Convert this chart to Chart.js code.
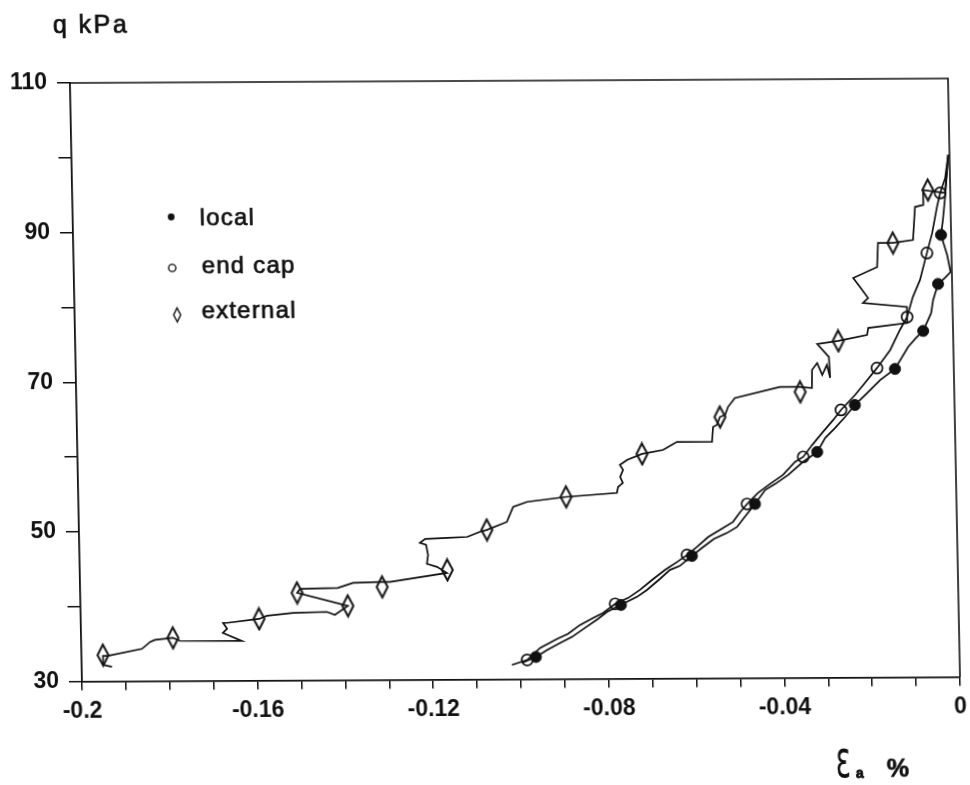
<!DOCTYPE html>
<html>
<head>
<meta charset="utf-8">
<script src="https://cdn.jsdelivr.net/npm/chart.js@4.4.1/dist/chart.umd.min.js"></script>
<style>
  html, body { margin: 0; padding: 0; background: #fff; overflow: hidden; }
  /* the scanned frame leans a little: slight shear of the whole plot */
  #plot { display: block; transform-origin: 0 0; transform: matrix(1, -0.005125, 0.02005, 1, -1.664, 0.359); }
</style>
</head>
<body>
<canvas id="plot" width="970" height="785"></canvas>
<script>
const INK = "#111";

// axial strain (%) and deviator stress q (kPa) for the three strain measurements
const localX = [-0.0997, -0.0965, -0.0939, -0.0909, -0.0882, -0.0852, -0.0822, -0.0801, -0.0769, -0.0732,
  -0.0709, -0.0679, -0.0656, -0.0633, -0.0605, -0.0582, -0.0554, -0.0524, -0.0501, -0.0485,
  -0.0459, -0.0435, -0.0412, -0.0382, -0.0348, -0.0315, -0.0296, -0.0273, -0.0250, -0.0227,
  -0.0196, -0.0168, -0.0134, -0.0103, -0.0085, -0.0068, -0.0049, -0.0044, -0.0032, -0.0016,
  -0.0003, -0.0010, -0.0023, -0.0018, -0.0012, -0.0006, -0.0003];
const localY = [32.16, 32.95, 33.88, 34.81, 35.60, 36.80, 37.99, 38.92, 39.85, 40.91,
  41.83, 43.30, 44.49, 45.02, 46.35, 47.41, 48.61, 49.40, 50.19, 51.39,
  53.26, 55.12, 55.92, 57.11, 58.84, 60.16, 62.03, 63.36, 64.82, 66.42,
  68.15, 69.75, 71.21, 74.14, 75.33, 76.27, 78.67, 80.40, 82.54, 83.34,
  84.13, 86.41, 89.09, 91.09, 94.16, 97.77, 99.78];

const capX = [-0.1020, -0.0985, -0.0955, -0.0916, -0.0891, -0.0863, -0.0833, -0.0810, -0.0782, -0.0752,
  -0.0725, -0.0697, -0.0667, -0.0639, -0.0616, -0.0593, -0.0567, -0.0540, -0.0510, -0.0493,
  -0.0477, -0.0452, -0.0424, -0.0394, -0.0366, -0.0347, -0.0326, -0.0301, -0.0277, -0.0259,
  -0.0226, -0.0203, -0.0175, -0.0144, -0.0121, -0.0104, -0.0090, -0.0073, -0.0056, -0.0043,
  -0.0031, -0.0023, -0.0011, -0.0003];
const capY = [31.90, 32.56, 34.16, 35.35, 36.01, 37.20, 38.13, 38.79, 39.99, 40.78,
  41.84, 43.17, 44.50, 45.56, 46.49, 47.55, 48.88, 49.81, 50.87, 52.20,
  53.26, 54.72, 55.92, 57.11, 58.84, 59.51, 61.10, 62.83, 64.43, 65.76,
  67.76, 69.36, 71.35, 73.75, 76.42, 78.15, 80.82, 83.08, 86.69, 89.36,
  92.83, 94.70, 96.70, 99.78];

const extX = [-0.1931, -0.1951, -0.1951, -0.1940, -0.1862, -0.1843, -0.1832, -0.1791, -0.1775, -0.1634,
  -0.1677, -0.1667, -0.1676, -0.1667, -0.1594, -0.1576, -0.1516, -0.1439, -0.1421, -0.1391,
  -0.1506, -0.1499, -0.1413, -0.1378, -0.1317, -0.1294, -0.1164, -0.1186, -0.1209, -0.1206,
  -0.1210, -0.1224, -0.1212, -0.1162, -0.1116, -0.1087, -0.1071, -0.1025, -0.1010, -0.0978,
  -0.0889, -0.0773, -0.0770, -0.0759, -0.0765, -0.0758, -0.0765, -0.0748, -0.0714, -0.0666,
  -0.0634, -0.0554, -0.0551, -0.0542, -0.0535, -0.0523, -0.0516, -0.0500, -0.0397, -0.0356,
  -0.0324, -0.0323, -0.0311, -0.0300, -0.0289, -0.0282, -0.0284, -0.0310, -0.0262, -0.0196,
  -0.0193, -0.0104, -0.0104, -0.0204, -0.0192, -0.0210, -0.0225, -0.0170, -0.0167, -0.0133,
  -0.0087, -0.0081, -0.0063, -0.0062, -0.0030, -0.0012, -0.0003];
const extY = [31.92, 32.19, 33.39, 33.39, 34.30, 35.23, 35.50, 35.75, 35.35, 35.30,
  36.38, 36.92, 37.72, 37.72, 38.23, 38.63, 39.01, 39.12, 38.72, 39.91,
  41.68, 42.21, 42.32, 42.98, 43.09, 43.09, 44.25, 45.06, 45.47, 46.67,
  48.01, 48.28, 48.81, 48.93, 49.05, 49.71, 49.97, 51.03, 53.03, 53.69,
  54.33, 54.83, 55.63, 56.16, 56.96, 57.90, 58.57, 59.23, 60.02, 60.54,
  61.60, 61.58, 63.58, 63.85, 64.91, 65.18, 66.25, 67.44, 68.88, 68.87,
  68.73, 71.13, 72.06, 70.46, 71.79, 70.05, 72.86, 74.60, 74.99, 75.77,
  76.71, 77.35, 79.49, 80.05, 80.72, 82.19, 83.40, 84.85, 88.06, 88.05,
  88.44, 92.85, 93.11, 95.11, 94.84, 94.70, 99.78];

// symbols placed along each trace
const localMarkX = [-0.0965, -0.0769, -0.0605, -0.0459, -0.0315, -0.0227, -0.0134, -0.0068, -0.0032, -0.0023];
const localMarkY = [32.95, 39.85, 46.35, 53.26, 60.16, 66.42, 71.21, 76.27, 82.54, 89.09];
const capMarkX = [-0.0985, -0.0782, -0.0616, -0.0477, -0.0347, -0.0259, -0.0175, -0.0104, -0.0056, -0.0023];
const capMarkY = [32.56, 39.99, 46.49, 53.26, 59.51, 65.76, 71.35, 78.15, 86.69, 94.70];
const extMarkX = [-0.1951, -0.1791, -0.1594, -0.1506, -0.1391, -0.1312, -0.1163, -0.1071, -0.0889, -0.0714,
  -0.0535, -0.0351, -0.0262, -0.0133, -0.0051];
const extMarkY = [33.50, 35.75, 38.23, 41.68, 39.91, 42.42, 44.65, 49.97, 54.33, 60.02,
  64.91, 68.20, 74.99, 88.05, 95.11];

const xTickValues = [-0.2, -0.19, -0.18, -0.17, -0.16, -0.15, -0.14, -0.13, -0.12, -0.11, -0.1,
  -0.09, -0.08, -0.07, -0.06, -0.05, -0.04, -0.03, -0.02, -0.01, 0];
const xTickLabels = ["-0.2", "", "", "", "-0.16", "", "", "", "-0.12", "", "",
  "", "-0.08", "", "", "", "-0.04", "", "", "", "0"];
const yTickValues = [30, 40, 50, 60, 70, 80, 90, 100, 110];
const yTickLabels = ["30", "", "50", "", "70", "", "90", "", "110"];

const pts = (xs, ys) => xs.map((x, i) => ({ x: x, y: ys[i] }));

// tall open diamond used for the "external" readings
function diamond(w, h, lw) {
  const c = document.createElement("canvas");
  c.width = w + 4;
  c.height = h + 4;
  const g = c.getContext("2d");
  g.strokeStyle = INK;
  g.lineWidth = lw;
  g.beginPath();
  g.moveTo(c.width / 2, 2);
  g.lineTo(c.width - 2, c.height / 2);
  g.lineTo(c.width / 2, c.height - 2);
  g.lineTo(2, c.height / 2);
  g.closePath();
  g.stroke();
  return c;
}

// fill plus a thin outline, so the lettering keeps the heavy printed look
function inkText(c, txt, x, y, w) {
  c.fillText(txt, x, y);
  c.lineWidth = w;
  c.strokeText(txt, x, y);
}

const tickFont = { family: "'Liberation Sans', Arial, sans-serif", size: 23, weight: "bold" };

const framePlugin = {
  id: "frame",
  beforeDraw(chart) {
    const c = chart.ctx;
    c.save();
    c.fillStyle = "#fff";
    c.fillRect(0, 0, chart.width, chart.height);
    c.restore();
  },
  afterDraw(chart) {
    const c = chart.ctx;
    const a = chart.chartArea;
    c.save();
    c.strokeStyle = INK;
    c.lineWidth = 1.6;
    c.beginPath();
    c.moveTo(a.left, a.top);
    c.lineTo(a.right, a.top);
    c.lineTo(a.right, a.bottom);
    c.stroke();

    c.fillStyle = INK;
    c.textBaseline = "alphabetic";
    c.textAlign = "left";
    c.font = "25px 'Liberation Sans', Arial, sans-serif";
    c.letterSpacing = "2.5px";
    inkText(c, "q kPa", 54, 33, 0.7);

    // key
    c.letterSpacing = "1.2px";
    c.font = "24px 'Liberation Sans', Arial, sans-serif";
    inkText(c, "local", 197, 226, 0.7);
    inkText(c, "end cap", 198, 274, 0.7);
    inkText(c, "external", 197, 319, 0.7);
    c.letterSpacing = "0px";
    c.beginPath();
    c.arc(168.5, 217.5, 3.4, 0, Math.PI * 2);
    c.fill();
    c.lineWidth = 1.4;
    c.beginPath();
    c.arc(168.5, 268.5, 3.6, 0, Math.PI * 2);
    c.stroke();
    c.beginPath();
    c.moveTo(172.5, 308.5);
    c.lineTo(176, 315.5);
    c.lineTo(172.5, 322.5);
    c.lineTo(169, 315.5);
    c.closePath();
    c.stroke();

    // axis name under the strain scale
    c.save();
    c.translate(822, 781);
    c.scale(0.7, 1.3);
    c.font = "40px 'DejaVu Sans', sans-serif";
    c.fillText("\u03b5", 0, 0);
    c.restore();
    c.font = "bold 14px 'Liberation Sans', Arial, sans-serif";
    inkText(c, "a", 842, 782, 0.8);
    c.font = "bold 25px 'Liberation Sans', Arial, sans-serif";
    inkText(c, "%", 873, 781, 0.6);
    c.restore();
  }
};

const lineStyle = { showLine: true, borderColor: INK, borderWidth: 1.7, pointRadius: 0, tension: 0, fill: false };

new Chart(document.getElementById("plot"), {
  type: "scatter",
  data: {
    datasets: [
      Object.assign({ label: "local line", data: pts(localX, localY) }, lineStyle),
      Object.assign({ label: "end cap line", data: pts(capX, capY) }, lineStyle),
      Object.assign({ label: "external line", data: pts(extX, extY) }, lineStyle),
      {
        label: "end cap", data: pts(capMarkX, capMarkY), pointStyle: "circle", pointRadius: 5.5,
        borderColor: INK, borderWidth: 1.7, backgroundColor: "rgba(0,0,0,0)"
      },
      {
        label: "local", data: pts(localMarkX, localMarkY), pointStyle: "circle", pointRadius: 5.5,
        borderColor: INK, borderWidth: 1, backgroundColor: INK
      },
      {
        label: "external", data: pts(extMarkX, extMarkY), pointStyle: diamond(11, 21, 2)
      }
    ]
  },
  options: {
    responsive: false,
    animation: false,
    devicePixelRatio: 1,
    layout: { padding: { top: 83, right: 22, left: 0, bottom: 0 } },
    plugins: { legend: { display: false }, tooltip: { enabled: false } },
    scales: {
      x: {
        type: "linear", min: -0.2, max: 0,
        afterFit(scale) { scale.height = 103.5; },
        afterBuildTicks(scale) { scale.ticks = xTickValues.map(v => ({ value: v })); },
        ticks: {
          autoSkip: false, maxRotation: 0, minRotation: 0, padding: 7, color: INK, font: tickFont,
          callback: (v, i) => xTickLabels[i]
        },
        grid: { drawOnChartArea: false, tickLength: 9, color: INK, lineWidth: 1.5 },
        border: { display: true, color: INK, width: 1.8 }
      },
      y: {
        type: "linear", min: 30, max: 110,
        afterFit(scale) { scale.width = 70; },
        afterBuildTicks(scale) { scale.ticks = yTickValues.map(v => ({ value: v })); },
        ticks: {
          autoSkip: false, padding: 10, color: INK, font: tickFont,
          callback: (v, i) => yTickLabels[i]
        },
        grid: { drawOnChartArea: false, tickLength: 13, color: INK, lineWidth: 1.5 },
        border: { display: true, color: INK, width: 1.8 }
      }
    }
  },
  plugins: [framePlugin]
});
</script>
</body>
</html>
